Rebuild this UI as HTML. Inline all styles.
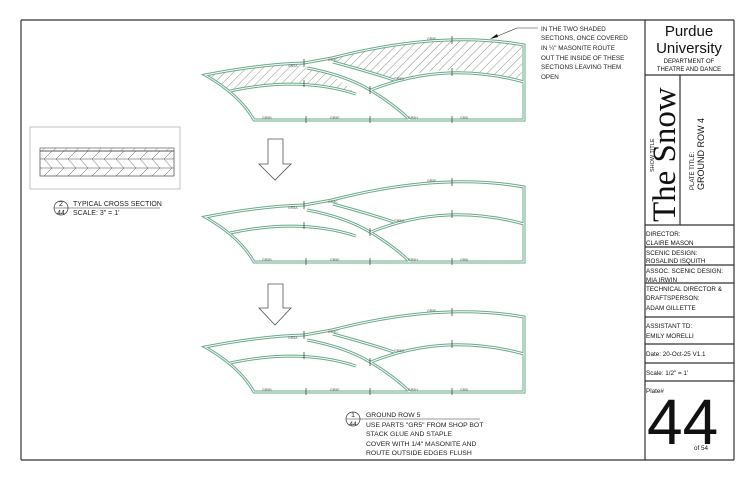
<!DOCTYPE html>
<html><head><meta charset="utf-8"><style>
html,body{margin:0;padding:0;background:#fff;}
svg{display:block;font-family:"Liberation Sans",sans-serif;}
</style></head><body>
<svg width="750" height="485" viewBox="0 0 750 485" xmlns="http://www.w3.org/2000/svg">
<defs>
<pattern id="h" width="6" height="6" patternUnits="userSpaceOnUse" patternTransform="rotate(45)">
<line x1="0" y1="0" x2="0" y2="6" stroke="#444" stroke-width="0.6"/></pattern>
<pattern id="hx" width="8" height="8" patternUnits="userSpaceOnUse" patternTransform="rotate(45)">
<line x1="0" y1="0" x2="0" y2="8" stroke="#555" stroke-width="0.6"/></pattern>
<g id="shape">
<g fill="none" stroke="#6aa98a" stroke-width="3">
<path d="M205,75 Q262,64 304,63 L332,58 Q440,30 524,45 L524,120 L254,120 Q240,95 205,75 Z"/>
<path d="M307,68 Q345,75 370,90 Q395,105 410,120"/>
<path d="M230,91 Q300,76 356,94"/>
<path d="M333,62 Q370,72 394,80"/>
<path d="M371,90 Q445,60 524,82"/>
</g>
<g fill="none" stroke="#fff" stroke-width="1">
<path d="M205,75 Q262,64 304,63 L332,58 Q440,30 524,45 L524,120 L254,120 Q240,95 205,75 Z"/>
<path d="M307,68 Q345,75 370,90 Q395,105 410,120"/>
<path d="M230,91 Q300,76 356,94"/>
<path d="M333,62 Q370,72 394,80"/>
<path d="M371,90 Q445,60 524,82"/>
</g>
<g stroke="#333" stroke-width="0.7">
<line x1="306" y1="116" x2="306" y2="123"/><line x1="370" y1="116" x2="370" y2="123"/><line x1="452" y1="116" x2="452" y2="123"/>
<line x1="304" y1="59" x2="304" y2="67"/><line x1="370" y1="86" x2="370" y2="94"/><line x1="452" y1="36" x2="452" y2="44"/><line x1="304" y1="80" x2="304" y2="87"/><line x1="452" y1="68" x2="452" y2="76"/>
</g>
<g font-size="3.5" fill="#555">
<text x="262" y="119">GR5B</text><text x="330" y="119">GR5E</text><text x="408" y="119">GR5H</text><text x="460" y="119">GR5I</text>
<text x="427" y="40">GR5F</text><text x="288" y="67">GR5A</text><text x="328" y="61">GR5C</text><text x="394" y="80">GR5G</text>
</g>
</g>
</defs>

<g fill="none" stroke="#333" stroke-width="1.2">
<line x1="21" y1="20" x2="734" y2="20"/>
<line x1="21" y1="20" x2="21" y2="460"/>
<line x1="21" y1="460" x2="734" y2="460"/>
<line x1="734" y1="20" x2="734" y2="460"/>
<line x1="645" y1="20" x2="645" y2="460"/>
<line x1="645" y1="75" x2="734" y2="75"/>
<line x1="680" y1="75" x2="680" y2="225"/>
<line x1="645" y1="225" x2="734" y2="225"/>
<line x1="645" y1="247" x2="734" y2="247"/>
<line x1="645" y1="265" x2="734" y2="265"/>
<line x1="645" y1="283" x2="734" y2="283"/>
<line x1="645" y1="317" x2="734" y2="317"/>
<line x1="645" y1="344" x2="734" y2="344"/>
<line x1="645" y1="363" x2="734" y2="363"/>
<line x1="645" y1="381" x2="734" y2="381"/>
</g>

<g fill="#111">
<text x="689" y="36" font-size="15" text-anchor="middle">Purdue</text>
<text x="689" y="53" font-size="15" text-anchor="middle">University</text>
<text x="689" y="63" font-size="6" text-anchor="middle">DEPARTMENT OF</text>
<text x="689" y="71" font-size="6" text-anchor="middle">THEATRE AND DANCE</text>
<text transform="translate(675,222) rotate(-90)" font-size="33" font-family="Liberation Serif,serif">The Snow</text>
<text transform="translate(654,172) rotate(-90)" font-size="5.5">SHOW TITLE</text>
<text transform="translate(694,190) rotate(-90)" font-size="6">PLATE TITLE:</text>
<text transform="translate(704,190) rotate(-90)" font-size="9">GROUND ROW 4</text>
<g font-size="6.3">
<text x="646" y="236">DIRECTOR:</text><text x="646" y="245">CLAIRE MASON</text>
<text x="646" y="255">SCENIC DESIGN:</text><text x="646" y="263">ROSALIND ISQUITH</text>
<text x="646" y="273">ASSOC. SCENIC DESIGN:</text><text x="646" y="282">MIA IRWIN</text>
<text x="646" y="291">TECHNICAL DIRECTOR &amp;</text><text x="646" y="300">DRAFTSPERSON:</text><text x="646" y="310">ADAM GILLETTE</text>
<text x="646" y="328">ASSISTANT TD:</text><text x="646" y="338">EMILY MORELLI</text>
<text x="646" y="356">Date:  20-Oct-25 V1.1</text>
<text x="646" y="375">Scale:  1/2" = 1'</text>
<text x="646" y="393">Plate#</text>
<text x="694" y="450">of  54</text>
</g>
<text x="647" y="444" font-size="64">44</text>
</g>

<g font-size="6.3" fill="#222">
<text x="541" y="31">IN THE TWO SHADED</text>
<text x="541" y="40">SECTIONS, ONCE COVERED</text>
<text x="541" y="50">IN ¼" MASONITE ROUTE</text>
<text x="541" y="60">OUT THE INSIDE OF THESE</text>
<text x="541" y="69">SECTIONS LEAVING THEM</text>
<text x="541" y="79">OPEN</text>
</g>
<line x1="538" y1="28" x2="517" y2="28" stroke="#333" stroke-width="0.6"/>
<line x1="517" y1="28" x2="493" y2="38" stroke="#333" stroke-width="0.6"/>
<polygon points="490,39 497,34 498,37" fill="#111"/>

<path d="M207,76 Q262,65 304,64 L307,68 Q334,72 356,94 Q300,76 230,91 Q220,82 207,76 Z" fill="url(#h)"/>
<path d="M333,59 Q440,31 522,46 L522,81 Q445,60 394,80 Q370,70 333,62 Z" fill="url(#h)"/>

<use href="#shape"/>
<use href="#shape" transform="translate(0,142)"/>
<use href="#shape" transform="translate(0,272)"/>

<g fill="#fff" stroke="#555" stroke-width="0.8">
<polygon points="268,139 283,139 283,164 291,164 275,180 259,164 268,164"/>
<polygon points="268,284 283,284 283,308 291,308 275,325 259,308 268,308"/>
</g>

<rect x="30" y="127" width="150" height="62" fill="none" stroke="#aaa" stroke-width="0.7"/>
<rect x="40" y="148" width="134" height="3" fill="url(#hx)" stroke="#444" stroke-width="0.6"/>
<rect x="40" y="151" width="134" height="25" fill="none" stroke="#444" stroke-width="0.7"/>
<line x1="40" y1="159" x2="174" y2="159" stroke="#444" stroke-width="0.6"/>
<line x1="40" y1="168" x2="174" y2="168" stroke="#444" stroke-width="0.6"/>
<g stroke="#555" stroke-width="0.5">
<path d="M44,159 l8,-8 M56,159 l8,-8 M68,159 l8,-8 M80,159 l8,-8 M92,159 l8,-8 M104,159 l8,-8 M116,159 l8,-8 M128,159 l8,-8 M140,159 l8,-8 M152,159 l8,-8 M164,159 l8,-8"/>
<path d="M44,159 l8,9 M56,159 l8,9 M68,159 l8,9 M80,159 l8,9 M92,159 l8,9 M104,159 l8,9 M116,159 l8,9 M128,159 l8,9 M140,159 l8,9 M152,159 l8,9 M164,159 l8,9"/>
<path d="M44,176 l8,-8 M56,176 l8,-8 M68,176 l8,-8 M80,176 l8,-8 M92,176 l8,-8 M104,176 l8,-8 M116,176 l8,-8 M128,176 l8,-8 M140,176 l8,-8 M152,176 l8,-8 M164,176 l8,-8"/>
</g>
<circle cx="61" cy="208" r="7" fill="none" stroke="#333" stroke-width="0.7"/>
<line x1="54" y1="208" x2="160" y2="208" stroke="#333" stroke-width="0.6"/>
<g font-size="7" fill="#222">
<text x="61" y="206" text-anchor="middle">2</text>
<text x="61" y="215" text-anchor="middle">44</text>
<text x="73" y="206">TYPICAL CROSS SECTION</text>
<text x="73" y="215">SCALE: 3" = 1'</text>
</g>

<circle cx="353" cy="419" r="7" fill="none" stroke="#333" stroke-width="0.7"/>
<line x1="346" y1="419" x2="480" y2="419" stroke="#333" stroke-width="0.6"/>
<g font-size="6.8" fill="#222">
<text x="353" y="417" text-anchor="middle">1</text>
<text x="353" y="426" text-anchor="middle">44</text>
<text x="366" y="417">GROUND ROW 5</text>
<text x="366" y="427">USE PARTS "GR5" FROM SHOP BOT</text>
<text x="366" y="436">STACK GLUE AND STAPLE</text>
<text x="366" y="446">COVER WITH 1/4" MASONITE AND</text>
<text x="366" y="455">ROUTE OUTSIDE EDGES FLUSH</text>
</g>
</svg>
</body></html>
